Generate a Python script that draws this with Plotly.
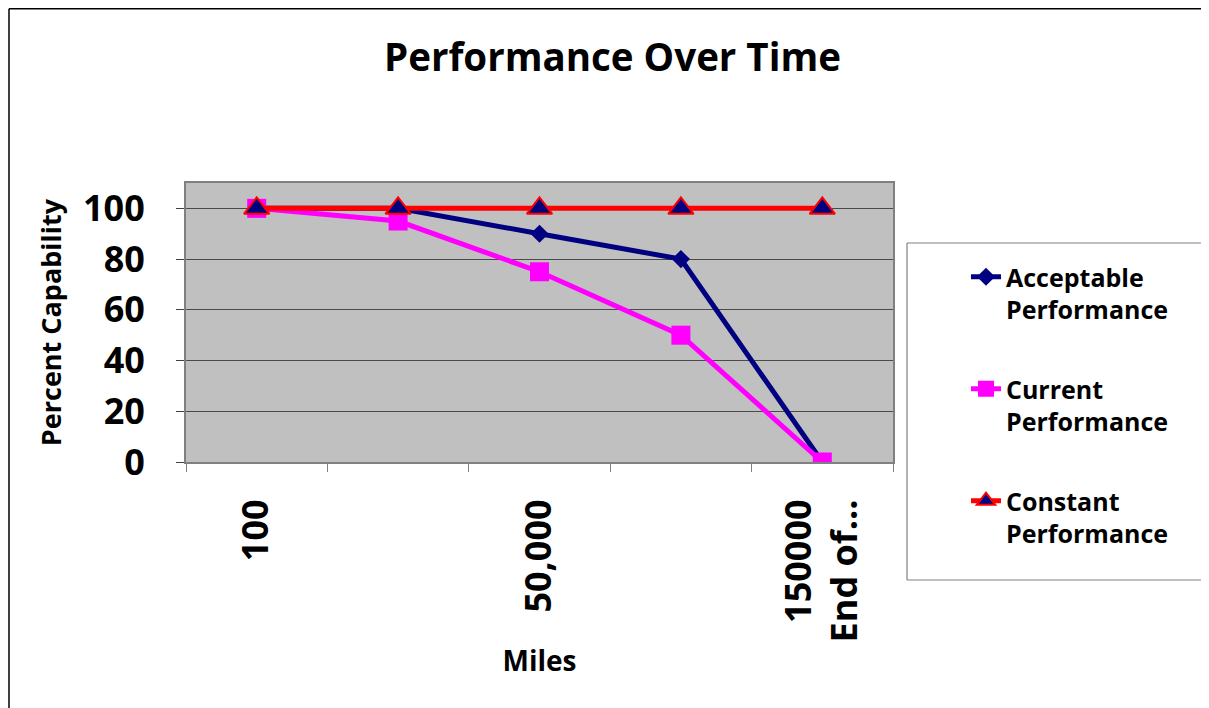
import plotly.graph_objects as go

categories = ["100", "25,000", "50,000", "100,000", "150000<br>End of..."]
tick_labels = ["100", "", "50,000", "", "150000<br>End of..."]
acceptable = [100, 100, 90, 80, 0]
current = [100, 95, 75, 50, 0]
constant = [100, 100, 100, 100, 100]

FONT = "Open Sans"
x = list(range(len(categories)))

# plot area in figure pixels
L, T, PW, PH = 178, 175, 707, 279
W, H = 1209, 708


def px_x(v):
    return (v - L) / PW


def px_y(v):
    return (T + PH - v) / PH


def seg(x0, y0, x1, y1, color, width):
    return dict(type="line", xref="paper", yref="paper",
                x0=px_x(x0), x1=px_x(x1), y0=px_y(y0), y1=px_y(y1),
                line=dict(color=color, width=width), layer="below")


fig = go.Figure()
fig.add_trace(go.Scatter(
    x=x, y=acceptable, name="Acceptable<br>Performance", mode="lines+markers",
    legendgroup="a",
    line=dict(color="#000080", width=5),
    marker=dict(symbol="diamond", size=14, color="#000080"),
))
fig.add_trace(go.Scatter(
    x=x, y=current, name="Current<br>Performance", mode="lines+markers",
    legendgroup="b",
    line=dict(color="#FF00FF", width=5),
    marker=dict(symbol="square", size=19, color="#FF00FF"),
))
fig.add_trace(go.Scatter(
    x=x, y=constant, name="Constant<br>Performance", mode="lines+markers",
    legendgroup="c",
    line=dict(color="#FF0000", width=5),
    marker=dict(symbol="triangle-up", size=22, color="#000080",
                line=dict(color="#FF0000", width=2)),
))

fig.update_layout(
    width=W, height=H,
    margin=dict(l=L, r=W - L - PW, t=T, b=H - T - PH),
    paper_bgcolor="white", plot_bgcolor="#C0C0C0",
    font=dict(family=FONT, color="black", weight="bold"),
    title=dict(text="Performance Over Time", x=0.5, xref="container", xanchor="center",
               y=1 - 49.5 / H, yref="container", yanchor="middle",
               font=dict(size=38.5, family=FONT, weight="bold")),
    showlegend=True,
    legend=dict(x=px_x(958), y=px_y(246), xanchor="left", yanchor="top",
                borderwidth=0, bgcolor="rgba(0,0,0,0)", maxheight=600,
                font=dict(size=25, family=FONT, weight="bold"),
                tracegroupgap=44, itemsizing="trace", valign="top"),
    shapes=[
        # outer chart border (top and left edges)
        seg(1, 0.75, W + 300, 0.75, "black", 1.5),
        seg(1, 0.75, 1, H + 300, "black", 1.5),
        # legend box (right side runs off the page)
        seg(899, 235, W + 300, 235, "#808080", 1.2),
        seg(899, 235, 899, 572, "#808080", 1.2),
        seg(899, 572, W + 300, 572, "#808080", 1.2),
    ],
)

fig.update_xaxes(
    range=[-0.5, len(categories) - 0.5],
    tickmode="array", tickvals=x, ticktext=tick_labels,
    tickangle=-90, ticks="", showgrid=False,
    tickfont=dict(size=36, family=FONT, weight="bold"),
    ticklabelstandoff=21,
    minor=dict(tickmode="array", tickvals=[i - 0.5 for i in range(len(categories) + 1)],
               ticks="outside", ticklen=8, tickcolor="#808080", showgrid=False),
    showline=True, linecolor="#808080", linewidth=2, mirror=True,
    title=dict(text="Miles", font=dict(size=28, family=FONT, weight="bold"), standoff=10),
    zeroline=False,
)
fig.update_yaxes(
    range=[0, 110], tickmode="array", tickvals=[0, 20, 40, 60, 80, 100],
    ticks="outside", ticklen=8, tickcolor="#404040",
    tickfont=dict(size=36, family=FONT, weight="bold"),
    ticklabelstandoff=24,
    showgrid=True, gridcolor="#4a4a4a", gridwidth=1,
    showline=True, linecolor="#808080", linewidth=2, mirror=True,
    title=dict(text="Percent Capability", font=dict(size=27, family=FONT, weight="bold"), standoff=14),
    zeroline=False,
)

fig.write_html("out.html", post_script="document.body.style.overflow='hidden';")
